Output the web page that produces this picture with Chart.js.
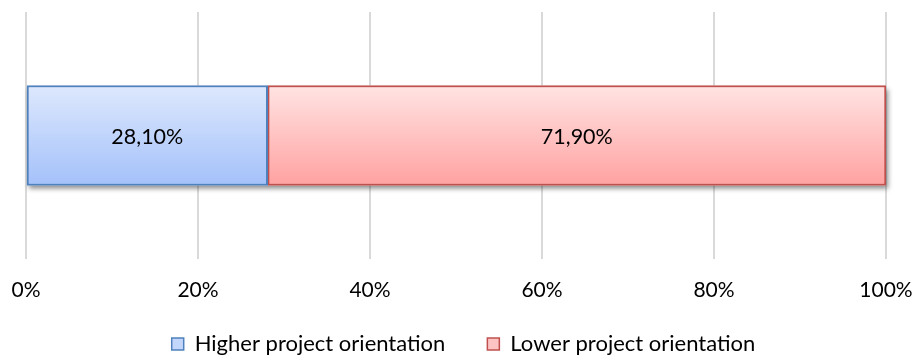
<!DOCTYPE html>
<html>
<head>
<meta charset="utf-8">
<script src="https://cdn.jsdelivr.net/npm/chart.js@4/dist/chart.umd.min.js"></script>
<style>
  html, body { margin: 0; padding: 0; background: #ffffff; }
  #wrap { width: 917px; height: 356px; }
</style>
</head>
<body>
<div id="wrap"><canvas id="chart" width="917" height="356"></canvas></div>
<script>
// Share of respondents by project orientation (percent of total)
const categories = ['Project orientation'];
const higherShare = [28.1];
const lowerShare = [71.9];
const seriesNames = ['Higher project orientation', 'Lower project orientation'];
const axisTicks = [0, 20, 40, 60, 80, 100];

const FONT = 'Lato, "Liberation Sans", sans-serif';
const BAR_THICKNESS = 100;
const LEGEND_TOP = 291;

const palette = {
  higher: { top: '#dde8fd', bottom: '#a4c1fa', border: '#4f81bd', swatch: '#c3d6fb' },
  lower:  { top: '#ffe4e3', bottom: '#ffa2a1', border: '#c0504d', swatch: '#fcc4c3' }
};

const formatPct = v => v.toFixed(2).replace('.', ',') + '%';

// Vertical gradient spanning the bar's own height
function barGradient(colors) {
  return (ctx) => {
    const chart = ctx.chart;
    if (!chart.chartArea || !chart.scales.y) return colors.bottom;
    const center = chart.scales.y.getPixelForValue(ctx.dataIndex || 0);
    const half = BAR_THICKNESS / 2;
    const g = chart.ctx.createLinearGradient(0, center - half, 0, center + half);
    g.addColorStop(0, colors.top);
    g.addColorStop(1, colors.bottom);
    return g;
  };
}

// Soft drop shadow under the whole stacked bar
const barShadow = {
  id: 'barShadow',
  beforeDatasetsDraw(chart) {
    const metas = chart.data.datasets.map((_, i) => chart.getDatasetMeta(i));
    const c = chart.ctx;
    categories.forEach((_, j) => {
      let left = Infinity, right = -Infinity, top = 0, bottom = 0;
      metas.forEach(m => {
        const el = m.data[j];
        if (!el) return;
        const p = el.getProps(['x', 'y', 'base', 'height'], true);
        left = Math.min(left, p.x, p.base);
        right = Math.max(right, p.x, p.base);
        top = p.y - p.height / 2;
        bottom = p.y + p.height / 2;
      });
      if (!isFinite(left)) return;
      c.save();
      c.shadowColor = 'rgba(0,0,0,0.45)';
      c.shadowBlur = 5;
      c.shadowOffsetX = 2;
      c.shadowOffsetY = 3;
      c.fillStyle = '#ffffff';
      c.fillRect(left, top, right - left, bottom - top);
      c.restore();
    });
  }
};

// Value labels centred in each segment
const segmentLabels = {
  id: 'segmentLabels',
  afterDatasetsDraw(chart) {
    const c = chart.ctx;
    c.save();
    c.font = '21.5px ' + FONT;
    c.fillStyle = '#000000';
    c.textAlign = 'center';
    c.textBaseline = 'middle';
    chart.data.datasets.forEach((ds, i) => {
      chart.getDatasetMeta(i).data.forEach((bar, j) => {
        const p = bar.getProps(['x', 'y', 'base'], true);
        c.fillText(formatPct(ds.data[j]), (p.x + p.base) / 2, p.y + 2);
      });
    });
    c.restore();
  }
};

// Legend placed just under the tick labels, a little right of centre
const legendPlacement = {
  id: 'legendPlacement',
  afterLayout(chart) {
    const lg = chart.legend;
    if (!lg) return;
    const dy = LEGEND_TOP - lg.top;
    lg.top += dy;
    lg.bottom += dy;
    lg.left += 15;
  }
};

new Chart(document.getElementById('chart'), {
  type: 'bar',
  data: {
    labels: categories,
    datasets: [
      {
        label: seriesNames[0],
        data: higherShare,
        backgroundColor: barGradient(palette.higher),
        borderColor: palette.higher.border,
        borderWidth: 2,
        borderSkipped: false,
        barThickness: BAR_THICKNESS
      },
      {
        label: seriesNames[1],
        data: lowerShare,
        backgroundColor: barGradient(palette.lower),
        borderColor: palette.lower.border,
        borderWidth: 2,
        borderSkipped: false,
        barThickness: BAR_THICKNESS
      }
    ]
  },
  options: {
    indexAxis: 'y',
    responsive: false,
    animation: false,
    devicePixelRatio: 1,
    layout: { padding: { left: 26, right: 31, top: 12, bottom: -23 } },
    scales: {
      x: {
        stacked: true,
        min: 0,
        max: 100,
        afterBuildTicks: s => { s.ticks = axisTicks.map(v => ({ value: v })); },
        afterFit: s => { s.height = 46; },
        border: { display: false },
        grid: { color: '#d9d9d9', lineWidth: 2, drawTicks: true, tickLength: 19, tickColor: 'rgba(0,0,0,0)' },
        ticks: {
          padding: 0,
          color: '#000000',
          font: { family: FONT, size: 21 },
          maxRotation: 0,
          callback: v => v + '%'
        }
      },
      y: {
        stacked: true,
        display: false
      }
    },
    plugins: {
      tooltip: { enabled: false },
      legend: {
        position: 'bottom',
        labels: {
          padding: 42,
          boxWidth: 12,
          boxHeight: 12,
          color: '#000000',
          font: { family: FONT, size: 22 },
          generateLabels: chart => chart.data.datasets.map((ds, i) => {
            const col = i === 0 ? palette.higher : palette.lower;
            return {
              text: ds.label,
              fillStyle: col.swatch,
              strokeStyle: col.border,
              lineWidth: 1.5,
              fontColor: '#000000',
              datasetIndex: i,
              hidden: false
            };
          })
        }
      }
    }
  },
  plugins: [barShadow, segmentLabels, legendPlacement]
});
</script>
</body>
</html>
